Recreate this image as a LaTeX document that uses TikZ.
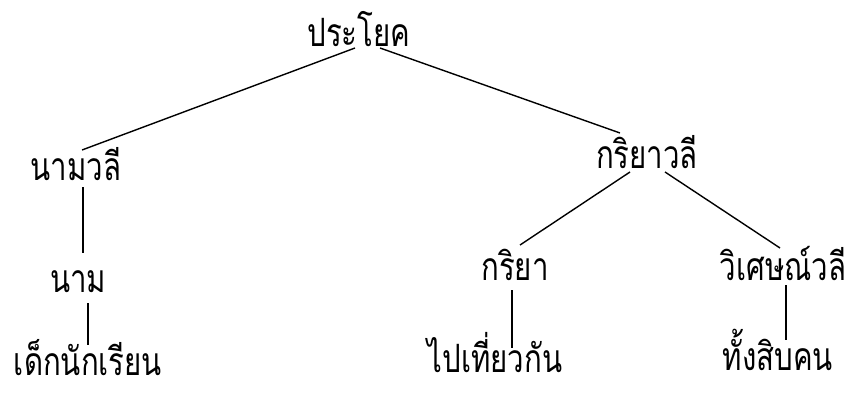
\documentclass[tikz,border=0pt]{standalone}
\usepackage{graphicx}
\usepackage{fontspec}
\newfontfamily\thaifont[Script=Thai]{Loma}
\usetikzlibrary{calc}
\newcommand\tallthai[1]{\scalebox{0.98}[1.3]{#1}}
\begin{document}
\begin{tikzpicture}[x=1pt,y=-1pt,
  lbl/.style={font=\thaifont\fontsize{30}{36}\selectfont, inner sep=0pt, anchor=base},
  edge/.style={line width=1.4pt}]
\useasboundingbox[fill=white] (0,0) rectangle (848,393);
\node[lbl] (s)  at (359,47)  {\tallthai{ประโยค}};
\node[lbl] (np) at (76,180)  {\tallthai{นามวลี}};
\node[lbl] (vp) at (647,168) {\tallthai{กริยาวลี}};
\node[lbl] (n)  at (78,292)  {\tallthai{นาม}};
\node[lbl] (v)  at (515,280) {\tallthai{กริยา}};
\node[lbl] (ap) at (783,280) {\tallthai{วิเศษณ์วลี}};
\node[lbl] (w1) at (88,375)  {\tallthai{เด็กนักเรียน}};
\node[lbl] (w2) at (495,372) {\tallthai{ไปเที่ยวกัน}};
\node[lbl] (w3) at (778,370) {\tallthai{ทั้งสิบคน}};
\draw[edge] ($(s.base)+(-4,1)$) -- ($(np.base)+(6,-30)$);
\draw[edge] ($(s.base)+(21,1)$) -- ($(vp.base)+(-27,-35)$);
\draw[edge] ($(np.base)+(7,7)$) -- ($(n.base)+(5,-39)$);
\draw[edge] ($(n.base)+(10,11)$) -- ($(w1.base)+(0,-30)$);
\draw[edge] ($(vp.base)+(-17,4)$) -- ($(v.base)+(5,-35)$);
\draw[edge] ($(vp.base)+(18,4)$) -- ($(ap.base)+(-3,-32)$);
\draw[edge] ($(v.base)+(-3,10)$) -- ($(w2.base)+(17,-24)$);
\draw[edge] ($(ap.base)+(3,5)$) -- ($(w3.base)+(8,-30)$);
\end{tikzpicture}
\end{document}
